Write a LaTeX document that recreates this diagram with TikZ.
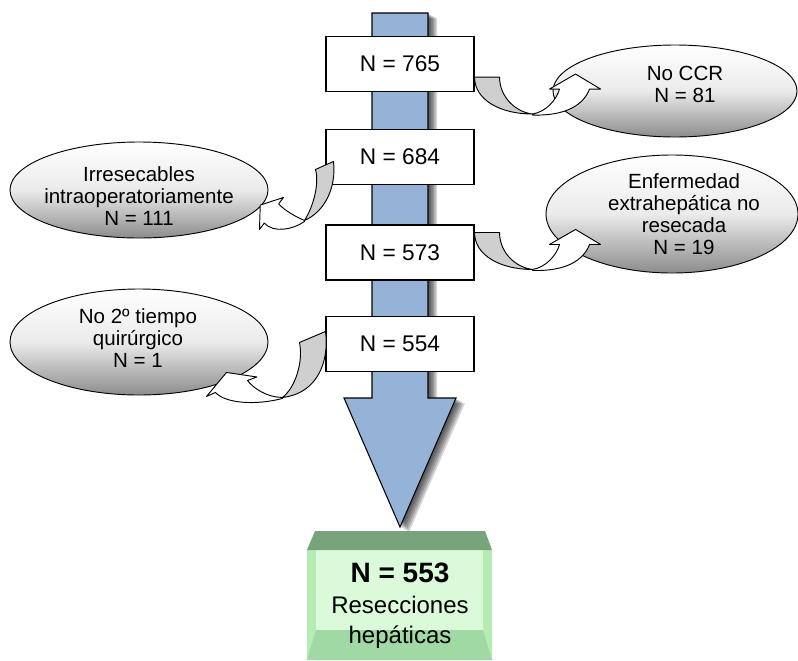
\documentclass[tikz,border=0pt]{standalone}
\usepackage{fontspec}
\setmainfont{Liberation Sans}
\usetikzlibrary{shapes.geometric,calc}
\definecolor{bigblue}{HTML}{95B3D7}
\definecolor{topgreen}{HTML}{78A47C}
\definecolor{sidegreen}{HTML}{B4ECB4}
\definecolor{facegreen}{HTML}{DAFADA}
\definecolor{botgreen}{HTML}{A0D9A4}
\definecolor{backgray}{HTML}{CFCFCF}
\begin{document}
\begin{tikzpicture}[x=0.75pt,y=-0.75pt,
  stepbox/.style={draw=black,line width=0.8pt,fill=white,minimum width=111pt,minimum height=41.25pt,inner sep=0pt,font=\fontsize{17}{20}\selectfont},
  oval/.style={ellipse,draw=black,line width=0.7pt,top color=white,bottom color=black!45,middle color=black!8,inner sep=0pt},
  ovaltext/.style={align=center,font=\fontsize{15.4}{16.4}\selectfont,inner sep=0pt},
  backface/.style={fill=backgray,draw=black,line width=0.7pt,line join=round},
  frontface/.style={fill=white,draw=black,line width=0.7pt,line join=round},
  pics/turnright/.style={code={
    \path[backface] (0,0) -- (25,0) .. controls (25,20) and (41,35) .. (58,37) .. controls (26,37) and (0,23) .. (0,0) -- cycle;
    \path[frontface] (58,37) .. controls (71,35) and (82,23) .. (85,12) -- (75,12) -- (101,-3) -- (126,12) -- (115,12) .. controls (109,28) and (91,39) .. (58,38) -- cycle;
  }},
  pics/turnlefta/.style={code={
    \path[backface] (0,0) .. controls (3,25) and (-8,50) .. (-29,59) .. controls (-20,45) and (-14,22) .. (-18,8) -- cycle;
    \path[frontface] (-29,59) .. controls (-36,56) and (-48,50) .. (-54.8,42.4) -- (-50,36) -- (-73.2,43.6) -- (-74,68) -- (-69.2,61.6) .. controls (-60,72) and (-40,68) .. (-29,60) -- cycle;
  }},
  pics/turnleftb/.style={code={
    \path[backface] (0,0) .. controls (4,30) and (-8,62) .. (-43,66) .. controls (-30,56) and (-22,30) .. (-26,11) -- cycle;
    \path[frontface] (-43,66) .. controls (-58,66) and (-72,57) .. (-78,49) -- (-68.6,45.5) -- (-99,41) -- (-119,65) -- (-110,61) .. controls (-100,72) and (-70,74) .. (-43,67) -- cycle;
  }},
]
\useasboundingbox (0,0) rectangle (798,660);

% shadow of the big arrow
\foreach \d in {1.5,3,4.5,6,7.5,9}{
  \begin{scope}[shift={(\d,0.6*\d)}]
    \fill[black,opacity=0.16] (372,13) -- (428,13) -- (428,398) -- (456,398) -- (400,527) -- (344,398) -- (372,398) -- cycle;
  \end{scope}
}
% big arrow
\draw[fill=bigblue,line width=0.8pt,line join=miter] (372,13) -- (428,13) -- (428,398) -- (456,398) -- (400,527) -- (344,398) -- (372,398) -- cycle;

% boxes
\node[stepbox] (b765) at (400,64) {N = 765};
\node[stepbox] (b684) at (400,157) {N = 684};
\node[stepbox] (b573) at (400,252.5) {N = 573};
\node[stepbox] (b554) at (400,344) {N = 554};

% ellipses
\node[oval,minimum width=183pt,minimum height=69pt] (e1) at (675,91) {};
\node[ovaltext] (t1) at (685,84) {No CCR\\N = 81};
\node[oval,minimum width=193.5pt,minimum height=72pt] (e2) at (139,190) {};
\node[ovaltext] (t2) at (139,196) {Irresecables\\intraoperatoriamente\\N = 111};
\node[oval,minimum width=189pt,minimum height=88.5pt] (e3) at (672,214) {};
\node[ovaltext] (t3) at (684,214) {Enfermedad\\extrahepática no\\resecada\\N = 19};
\node[oval,minimum width=193.5pt,minimum height=79.5pt] (e4) at (139,342) {};
\node[ovaltext] (t4) at (138,338) {No 2º tiempo\\quirúrgico\\N = 1};

% curved arrows
\pic at ($(b765.south east)+(0,-15)$) {turnright};
\pic at ($(b573.north east)+(0,8)$) {turnright};
\pic at ($(b684.north west)+(8,32.5)$) {turnlefta};
\pic at ($(b554.north west)+(0,15.5)$) {turnleftb};

% final box
\fill[sidegreen] (307,550) rectangle (492,660);
\fill[facegreen] (316,550) rectangle (483,630);
\fill[topgreen] (315,531) -- (485,531) -- (492,550) -- (307,550) -- cycle;
\fill[botgreen] (316,630) -- (483,630) -- (492,660) -- (307,660) -- cycle;
\node[align=center,inner sep=0pt,font=\fontsize{18}{23}\selectfont] (res) at (400,606)
  {{\fontsize{21}{23}\selectfont\bfseries N = 553}\\Resecciones\\hepáticas};
\end{tikzpicture}
\end{document}
